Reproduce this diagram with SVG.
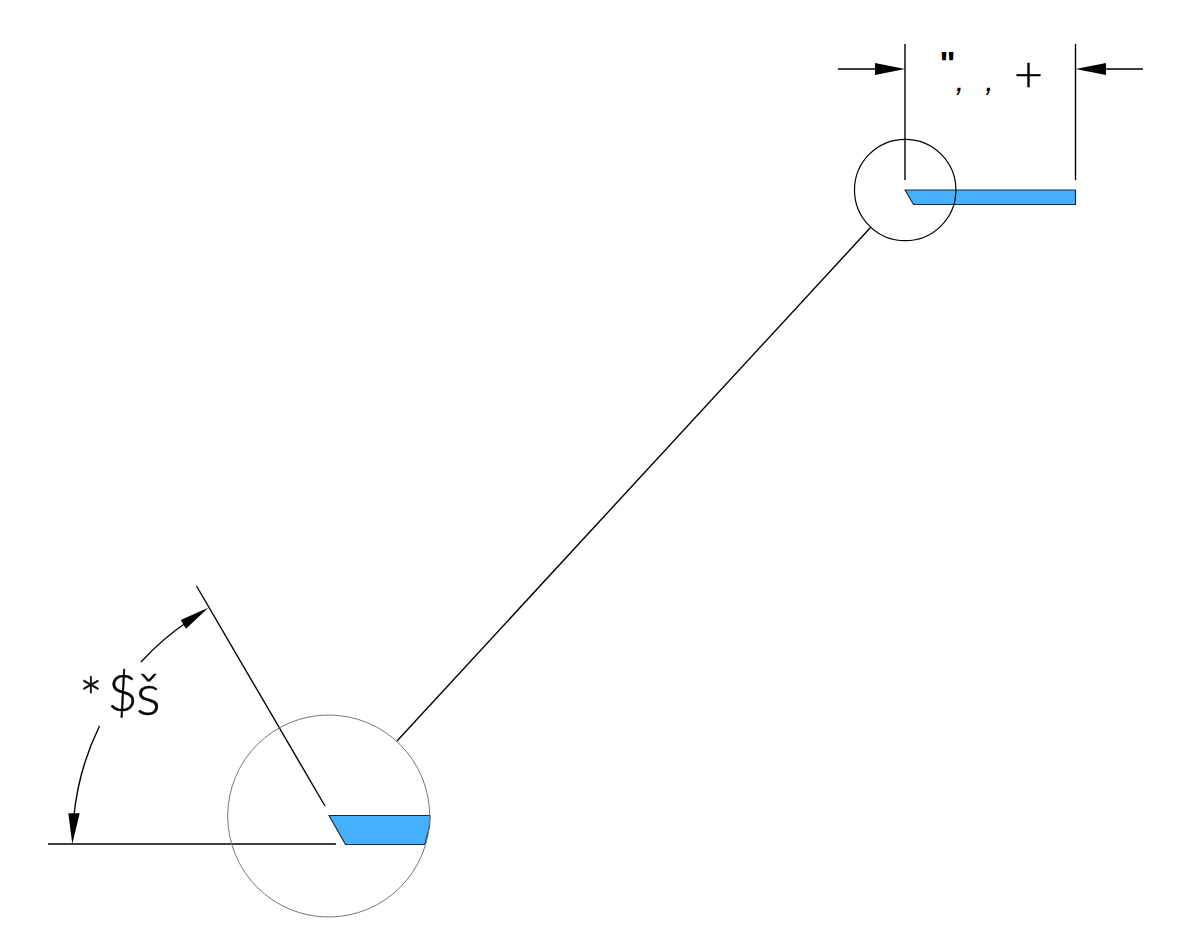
<svg xmlns="http://www.w3.org/2000/svg" width="1184" height="946" viewBox="0 0 1184 946">
<style>
.l{fill:none;stroke:#000;stroke-width:1.4}
.h{fill:#000;stroke:none}
.c{fill:none;stroke:#000;stroke-width:1.2}
.b{fill:#45b0ff;stroke:#1a2a38;stroke-width:1.2;stroke-linejoin:round}
.t{font-family:"Lato","Liberation Sans",sans-serif;font-weight:300;fill:#000;stroke:#000;stroke-width:.45}
.u{font-family:"Liberation Sans",sans-serif;fill:#000}
</style>
<rect width="1184" height="946" fill="#fff"/>
<g id="connectors">
<path class="l" d="M905 44V180M1075.500 44V180M838 69H880M1143 69H1100"/>
<path class="h" d="M905 69L875 63V75ZM1075.500 69L1106 63V75Z"/>
<path class="l" d="M871 227L397 741"/>
<path class="l" d="M196.500 586L325 806"/>
<path class="l" d="M48 844H336"/>
<path class="l" d="M141 662A265 265 0 0 1 190 620"/>
<path class="l" d="M99.500 726A265 265 0 0 0 74 815"/>
<path class="h" d="M208.300 607.700L180.700 620L186 628.700ZM72.300 844L68.300 813.300H79.700Z"/>
</g>
<g id="detail-small">
<polygon class="b" points="905,190 1075.500,190 1075.500,204.500 913.500,204.500"/>
<circle class="c" cx="905.200" cy="190" r="50.700"/>
</g>
<g id="detail-large">
<polygon class="b" points="329,815.500 430,815.500 429.500,826 425,844.500 345.500,844.500"/>
<circle cx="328.700" cy="816" r="101" fill="none" stroke="#777" stroke-width="1"/>
</g>
<g id="label-width">
<text class="u" font-size="34" font-weight="700" x="939.500" y="75">"</text>
<text class="u" font-size="32" font-style="italic" x="955.500" y="91">,</text>
<text class="u" font-size="32" font-style="italic" x="985" y="91">,</text>
<text class="t" font-size="50" x="1014" y="92">+</text>
</g>
<g id="label-angle">
<text class="t" font-size="56" x="79" y="718">*</text>
<text class="t" font-size="52" x="107.500" y="711">$</text>
<text class="t" font-size="58" x="136" y="715">š</text>
</g>
</svg>
